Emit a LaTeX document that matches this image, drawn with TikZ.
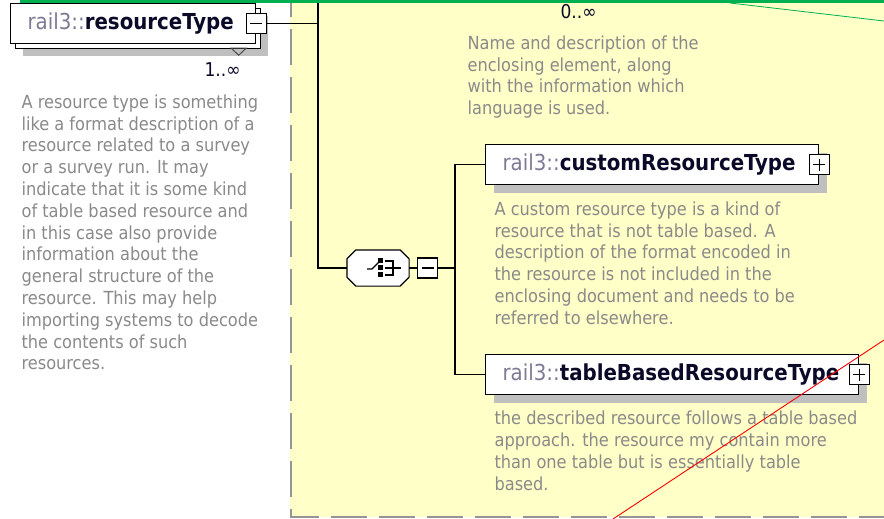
\documentclass[tikz,border=0pt]{standalone}
\usepackage{fontspec}
\setmainfont{DejaVu Sans Condensed}
\usetikzlibrary{positioning, calc, shadows}
\definecolor{pale}{HTML}{FFFFC8}
\definecolor{descgray}{HTML}{8A8A8A}
\definecolor{nsgray}{HTML}{7E7A94}
\definecolor{namecol}{HTML}{0A0A28}
\definecolor{selgreen}{HTML}{00B050}
\definecolor{dashgray}{HTML}{959595}
\newcommand{\elname}[1]{\mbox{{\color{nsgray}rail3::}\textbf{#1}}}
\newcommand{\octpath}[1]{($(#1.north west)+(9,0)$) -- ($(#1.north east)+(-9,0)$) -- ($(#1.north east)+(0,9)$)
  -- ($(#1.south east)+(0,-9)$) -- ($(#1.south east)+(-9,0)$) -- ($(#1.south west)+(9,0)$)
  -- ($(#1.south west)+(0,-9)$) -- ($(#1.north west)+(0,9)$) -- cycle}

\begin{document}
\begin{tikzpicture}[x=1pt,y=-1pt,line width=1.2pt,
  ebox/.style={draw,fill=white,anchor=north west,minimum height=40pt,inner xsep=17pt,inner ysep=0pt,
    text width=#1,align=left,text=namecol,font=\fontsize{22}{24}\selectfont},
  elem/.style={ebox=#1,drop shadow={shadow xshift=8pt,shadow yshift=-8pt,fill=black!25,opacity=1}},
  elemm/.style={ebox=#1,drop shadow={shadow xshift=12pt,shadow yshift=-12pt,fill=black!25,opacity=1},
    copy shadow={shadow xshift=5pt,shadow yshift=-5pt,draw=black,fill=white}},
  chc/.style={minimum width=61pt,minimum height=35pt,inner sep=0pt},
  tog/.style={draw,fill=white,minimum width=20pt,minimum height=20pt,inner sep=0pt},
  minus/.style={tog,path picture={\draw ([xshift=4pt]path picture bounding box.west) -- ([xshift=-4pt]path picture bounding box.east);}},
  plus/.style={tog,path picture={\draw ([xshift=4pt]path picture bounding box.west) -- ([xshift=-4pt]path picture bounding box.east);
    \draw ([yshift=-4pt]path picture bounding box.north) -- ([yshift=4pt]path picture bounding box.south);}},
  desc/.style={anchor=north west,inner sep=0pt,align=left,text=descgray,font=\fontsize{18}{21.8}\selectfont},
  card/.style={anchor=west,inner sep=0pt,text=namecol,font=\fontsize{19}{21.8}\selectfont}]
  \useasboundingbox (0,0) rectangle (884,519);
  \fill[white] (0,0) rectangle (884,519);
  % content area of the parent
  \fill[pale] (290,0) rectangle (884,517);
  \draw[dashgray,line width=2pt,dash pattern=on 36pt off 12pt,dash phase=19pt] (291,0) -- (291,517) -- (884,517);
  \node[card] (tc) at (560,12) {0..∞};
  \node[desc] (td) at (467,35) {Name and description of the\\enclosing element, along\\with the information which\\language is used.};
  % element with its toggle
  \node[elemm=211pt] (rt) at (10,3) {\elname{resourceType}};
  \node[minus] (rtm) at (rt.east) {};
  \draw[line width=1pt,black!70] ($(rt.south east)+(-25,4)$) -- ++(15,0) -- ++(-7.5,7) -- cycle;
  \node[card] (rtc) at (204,70) {1..∞};
  \node[desc] (rtd) at (21,94) {A resource type is something\\like a format description of a\\resource related to a survey\\or a survey run. It may\\indicate that it is some kind\\of table based resource and\\in this case also provide\\information about the\\general structure of the\\resource. This may help\\importing systems to decode\\the contents of such\\resources.};
  % choice
  \coordinate (top) at (318,0);
  \coordinate (fork) at (455,268);
  \node[chc] (ch) at (378,268) {};
  \fill[black!25,shift={(8,8)}] \octpath{ch};
  \filldraw[fill=white] \octpath{ch};
  \node[minus,right=8pt of ch] (chm) {};
  \draw ($(ch.center)+(-11,1)$) -- ++(5,0) -- ++(8,-8);
  \foreach \dy in {-10,-3,4} \fill ($(ch.center)+(0,\dy)$) rectangle ++(5,5);
  \draw ($(ch.center)+(7,-7)$) -| ++(8,14) -- ++(-8,0);
  \draw ($(ch.center)+(7,0)$) -- ++(16,0);
  % children
  \node[elem=299pt] (cu) at (485,144) {\elname{customResourceType}};
  \node[plus] (cup) at (cu.east) {};
  \node[desc] (cud) at (494,201) {A custom resource type is a kind of\\resource that is not table based. A\\description of the format encoded in\\the resource is not included in the\\enclosing document and needs to be\\referred to elsewhere.};
  \node[elem=339pt] (tb) at (485,354) {\elname{tableBasedResourceType}};
  \node[plus] (tbp) at (tb.east) {};
  \node[desc] (tbd) at (494,410.5) {the described resource follows a table based\\approach. the resource my contain more\\than one table but is essentially table\\based.};
  % connectors
  \draw (rtm.east) -| (top);
  \draw (top) |- (ch.west);
  \draw (ch.east) -- (chm.west);
  \draw (chm.east) -- (fork);
  \draw (fork) |- (cu.west);
  \draw (fork) |- (tb.west);
  % selection marks
  \fill[selgreen] (20,0) rectangle (884,3.5);
  \draw[selgreen,line width=0.8pt] (730,3) -- (884,21);
  \draw[red,line width=0.9pt] (613,519) -- (884,340);
\end{tikzpicture}
\end{document}
